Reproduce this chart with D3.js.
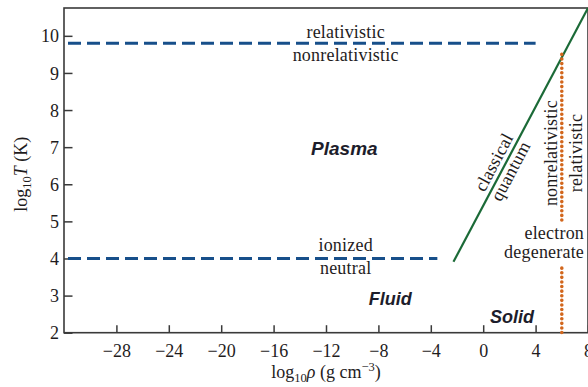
<!DOCTYPE html>
<html>
<head>
<meta charset="utf-8">
<script src="https://cdn.jsdelivr.net/npm/d3@7"></script>
<style>
  html, body { margin: 0; padding: 0; background: #fff; }
  svg { display: block; }
  .serif { font-family: "Liberation Serif", "Times New Roman", serif; fill: #1f1c1d; }
  .sansbi { font-family: "Liberation Sans", Arial, sans-serif; font-weight: bold; font-style: italic; fill: #1d1d2b; }
</style>
</head>
<body>
<svg id="chart" width="588" height="387"></svg>
<script>
// ---- data ----
const xTicks = [-28, -24, -20, -16, -12, -8, -4, 0, 4, 8];
const yTicks = [2, 3, 4, 5, 6, 7, 8, 9, 10];
const xDomain = [-32, 8];
const yDomain = [2, 10.75];
// boundary lines (log10 rho, log10 T)
const relLine = [[-32, 9.8], [4, 9.8]];
const ionLine = [[-32, 4.0], [-3.5, 4.0]];
const quantumLine = [[-2.27, 3.91], [8, 10.75]];
const degenUpper = [[6, 9.5], [6, 4.95]];
const degenLower = [[6, 3.74], [6, 2.0]];

const W = 588, H = 387;
const m = { left: 64, top: 8, right: 0, bottom: 54.3 };
const svg = d3.select("#chart");
const x = d3.scaleLinear().domain(xDomain).range([m.left, W - m.right]);
const y = d3.scaleLinear().domain(yDomain).range([H - m.bottom, m.top]);

const axisColor = "#3a3a3a";

// frame
svg.append("rect")
  .attr("x", x(xDomain[0])).attr("y", y(yDomain[1]))
  .attr("width", x(xDomain[1]) - x(xDomain[0]))
  .attr("height", y(yDomain[0]) - y(yDomain[1]))
  .attr("fill", "none").attr("stroke", axisColor).attr("stroke-width", 1.6);

// axes
const gx = svg.append("g").attr("transform", `translate(0,${y(yDomain[0])})`)
  .call(d3.axisBottom(x).tickValues(xTicks).tickSizeInner(-7.5).tickSizeOuter(0).tickPadding(18));
const gy = svg.append("g").attr("transform", `translate(${x(xDomain[0])},0)`)
  .call(d3.axisLeft(y).tickValues(yTicks).tickSizeInner(-8.5).tickSizeOuter(0).tickPadding(5));
[gx, gy].forEach(g => {
  g.select(".domain").remove();
  g.selectAll(".tick line").attr("stroke", axisColor).attr("stroke-width", 1.5);
  g.selectAll(".tick text").attr("class", "serif").style("font-size", "18px").attr("fill", "#1f1c1d");
});
gx.selectAll(".tick text").attr("dy", "0.33em");
gy.selectAll(".tick text").attr("dy", "0.34em");

const line = d3.line().x(d => x(d[0])).y(d => y(d[1]));

// dashed lines
[relLine, ionLine].forEach(L => {
  svg.append("path").attr("d", line(L)).attr("fill", "none")
    .attr("stroke", "#174f8a").attr("stroke-width", 2.8)
    .attr("stroke-dasharray", "13 6").attr("stroke-dashoffset", 15);
});

// classical/quantum line
svg.append("path").attr("d", line(quantumLine)).attr("fill", "none")
  .attr("stroke", "#1b6a37").attr("stroke-width", 2.2);

// degeneracy dotted line
[degenUpper, degenLower].forEach(L => {
  svg.append("path").attr("d", line(L)).attr("fill", "none")
    .attr("stroke", "#d2661c").attr("stroke-width", 3.6)
    .attr("stroke-linecap", "round").attr("stroke-dasharray", "0 4.6");
});

// ---- text labels ----
function serifText(txt, px, py, opts = {}) {
  const t = svg.append("text").attr("class", "serif")
    .attr("x", px).attr("y", py)
    .attr("text-anchor", opts.anchor || "middle")
    .style("font-size", (opts.size || 18) + "px")
    .style("letter-spacing", (opts.ls != null ? opts.ls : 0.2) + "px")
    .text(txt);
  if (opts.rotate != null) t.attr("transform", `rotate(${opts.rotate},${px},${py})`);
  return t;
}

serifText("relativistic", x(-10.5), y(9.8) - 5.5);
serifText("nonrelativistic", x(-10.5), y(9.8) + 18);
serifText("ionized", x(-10.5), y(4.0) - 7.5);
serifText("neutral", x(-10.5), y(4.0) + 16);
serifText("electron", x(7.7), y(4.0) - 19, { anchor: "end" });
serifText("degenerate", x(7.7), y(4.0) - 0.8, { anchor: "end" });

// rotated along quantum line
const qx = 1.55;
const slope = (quantumLine[1][1] - quantumLine[0][1]) / (quantumLine[1][0] - quantumLine[0][0]);
const qy = quantumLine[0][1] + slope * (qx - quantumLine[0][0]);
const ang = Math.atan2(y(qy + slope) - y(qy), x(qx + 1) - x(qx)) * 180 / Math.PI;
const cx = x(qx), cy = y(qy);
const rad = ang * Math.PI / 180;
// normal direction (pointing up-left of line)
const nx = Math.sin(rad), ny = -Math.cos(rad);
serifText("classical", cx + nx * 5, cy + ny * 5, { rotate: ang });
serifText("quantum", cx - nx * 14, cy - ny * 14, { rotate: ang });

// vertical labels along the degeneracy line
serifText("nonrelativistic", x(6) - 5, y(6.84), { rotate: -90 });
serifText("relativistic", x(6) + 20, y(6.84), { rotate: -90 });

// regions
function regionText(txt, px, py, size) {
  svg.append("text").attr("class", "sansbi").attr("x", px).attr("y", py)
    .attr("text-anchor", "middle").style("font-size", size + "px").text(txt);
}
regionText("Plasma", x(-10.6), y(6.8), 19);
regionText("Fluid", x(-7.1), y(2.74), 18);
regionText("Solid", x(2.2), y(2.25), 18);

// axis titles
const xt = svg.append("text").attr("class", "serif")
  .attr("x", (x(xDomain[0]) + x(xDomain[1])) / 2).attr("y", 378)
  .attr("text-anchor", "middle").style("font-size", "18px");
xt.append("tspan").text("log");
xt.append("tspan").attr("dy", 4).style("font-size", "12.5px").text("10");
xt.append("tspan").attr("dy", -4).style("font-style", "italic").text("ρ");
xt.append("tspan").text(" (g cm");
xt.append("tspan").attr("dy", -7).style("font-size", "12.5px").text("−3");
xt.append("tspan").attr("dy", 7).text(")");

const yt = svg.append("text").attr("class", "serif")
  .attr("transform", `translate(27,${(y(yDomain[0]) + y(yDomain[1])) / 2 + 4}) rotate(-90)`)
  .attr("text-anchor", "middle").style("font-size", "18px");
yt.append("tspan").text("log");
yt.append("tspan").attr("dy", 4).style("font-size", "12.5px").text("10");
yt.append("tspan").attr("dy", -4).style("font-style", "italic").text("T");
yt.append("tspan").text(" (K)");
</script>
</body>
</html>
